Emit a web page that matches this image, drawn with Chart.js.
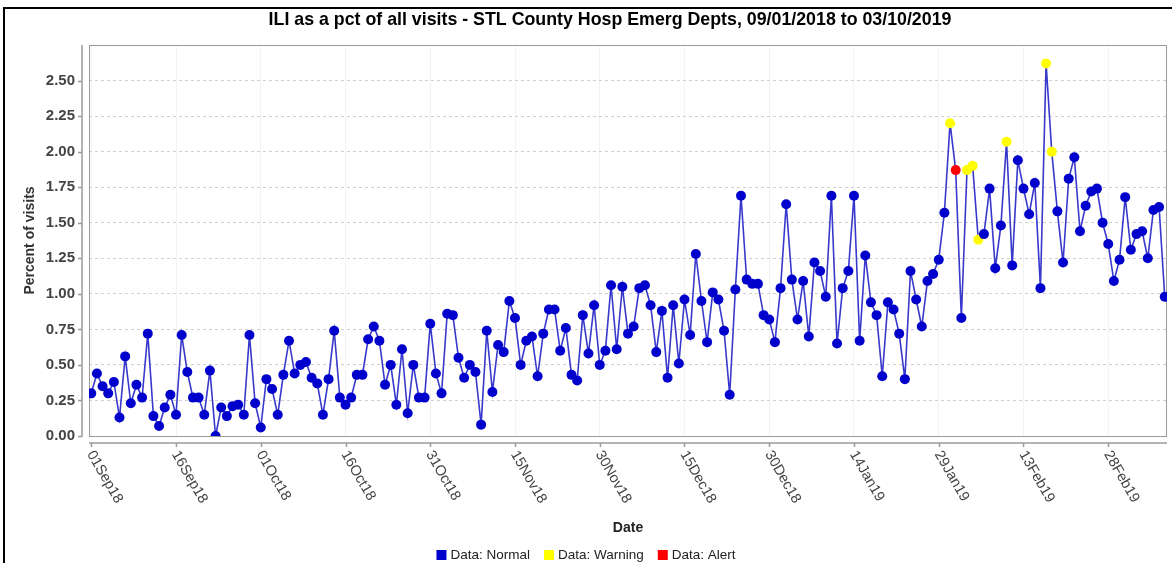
<!DOCTYPE html>
<html>
<head>
<meta charset="utf-8">
<title>ILI chart</title>
<script src="https://cdn.jsdelivr.net/npm/chart.js@4.4.1/dist/chart.umd.min.js"></script>
<style>
    html, body { margin: 0; padding: 0; background: #fff; }
    #wrap { position: relative; width: 1172px; height: 563px; }
</style>
</head>
<body>
<div id="wrap"><canvas id="Chart1" width="1172" height="563"></canvas></div>
<script>
// daily values, 01Sep18 .. 10Mar19
const startDate = '2018-09-01';
const iliPct = [
    0.30, 0.44, 0.35, 0.30, 0.38, 0.13, 0.56, 0.23, 0.36, 0.27,
    0.72, 0.14, 0.07, 0.20, 0.29, 0.15, 0.71, 0.45, 0.27, 0.27,
    0.15, 0.46, 0.00, 0.20, 0.14, 0.21, 0.22, 0.15, 0.71, 0.23,
    0.06, 0.40, 0.33, 0.15, 0.43, 0.67, 0.44, 0.50, 0.52, 0.41,
    0.37, 0.15, 0.40, 0.74, 0.27, 0.22, 0.27, 0.43, 0.43, 0.68,
    0.77, 0.67, 0.36, 0.50, 0.22, 0.61, 0.16, 0.50, 0.27, 0.27,
    0.79, 0.44, 0.30, 0.86, 0.85, 0.55, 0.41, 0.50, 0.45, 0.08,
    0.74, 0.31, 0.64, 0.59, 0.95, 0.83, 0.50, 0.67, 0.70, 0.42,
    0.72, 0.89, 0.89, 0.60, 0.76, 0.43, 0.39, 0.85, 0.58, 0.92,
    0.50, 0.60, 1.06, 0.61, 1.05, 0.72, 0.77, 1.04, 1.06, 0.92,
    0.59, 0.88, 0.41, 0.92, 0.51, 0.96, 0.71, 1.28, 0.95, 0.66,
    1.01, 0.96, 0.74, 0.29, 1.03, 1.69, 1.10, 1.07, 1.07, 0.85,
    0.82, 0.66, 1.04, 1.63, 1.10, 0.82, 1.09, 0.70, 1.22, 1.16,
    0.98, 1.69, 0.65, 1.04, 1.16, 1.69, 0.67, 1.27, 0.94, 0.85,
    0.42, 0.94, 0.89, 0.72, 0.40, 1.16, 0.96, 0.77, 1.09, 1.14,
    1.24, 1.57, 2.20, 1.87, 0.83, 1.87, 1.90, 1.38, 1.42, 1.74,
    1.18, 1.48, 2.07, 1.20, 1.94, 1.74, 1.56, 1.78, 1.04, 2.62,
    2.00, 1.58, 1.22, 1.81, 1.96, 1.44, 1.62, 1.72, 1.74, 1.50,
    1.35, 1.09, 1.24, 1.68, 1.31, 1.42, 1.44, 1.25, 1.59, 1.61,
    0.98
];
const warningDates = ['2019-01-31', '2019-02-03', '2019-02-04', '2019-02-05', '2019-02-10', '2019-02-17', '2019-02-18'];
const alertDates = ['2019-02-01'];

const xTickDays = [0, 15, 30, 45, 60, 75, 90, 105, 120, 135, 150, 165, 180];
const xTickLabels = ['01Sep18', '16Sep18', '01Oct18', '16Oct18', '31Oct18', '15Nov18', '30Nov18',
    '15Dec18', '30Dec18', '14Jan19', '29Jan19', '13Feb19', '28Feb19'];
const yTicks = [0, 0.25, 0.5, 0.75, 1.0, 1.25, 1.5, 1.75, 2.0, 2.25, 2.5];

const legendNames = ['Data: Normal', 'Data: Warning', 'Data: Alert'];
const legendColors = ['#0000cc', '#ffff00', '#ff0000'];

const chartTitle = 'ILI as a pct of all visits - STL County Hosp Emerg Depts, 09/01/2018 to 03/10/2019';
const FONT = '"Liberation Sans", Arial, sans-serif';

function dayIndex(d) {
    return Math.round((Date.parse(d) - Date.parse(startDate)) / 86400000);
}
const warnIdx = warningDates.map(dayIndex);
const alertIdx = alertDates.map(dayIndex);
const pointColors = iliPct.map((v, i) => {
    if (alertIdx.includes(i)) return legendColors[2];
    if (warnIdx.includes(i)) return legendColors[1];
    return legendColors[0];
});

// frame, offset axes, rotated date labels, title, legend
const decorations = {
    id: 'decorations',
    beforeDraw(chart) {
        const ctx = chart.ctx;
        ctx.save();
        ctx.fillStyle = '#fff';
        ctx.fillRect(0, 0, chart.width, chart.height);
        ctx.restore();
    },
    beforeDatasetsDraw(chart) {
        const {ctx, chartArea: a} = chart;
        ctx.save();
        ctx.strokeStyle = '#9a9a9a';
        ctx.lineWidth = 1;
        ctx.strokeRect(a.left + 0.5, a.top + 0.5, a.right - a.left - 1, a.bottom - a.top);
        ctx.restore();
    },
    afterDraw(chart) {
        const {ctx, chartArea: a, scales} = chart;
        const x = scales.x, y = scales.y;
        ctx.save();

        // outer border
        ctx.fillStyle = '#000';
        ctx.fillRect(3, 7, 2, chart.height - 7);
        ctx.fillRect(3, 7, chart.width - 3, 2);

        // title
        ctx.fillStyle = '#000';
        ctx.font = 'bold 17.8px ' + FONT;
        ctx.textAlign = 'center';
        ctx.textBaseline = 'middle';
        ctx.fillText(chartTitle, 610, 20);

        // y axis line + ticks
        ctx.strokeStyle = '#9a9a9a';
        ctx.lineWidth = 1.5;
        const yx = a.left - 7;
        ctx.beginPath();
        ctx.moveTo(yx, a.top);
        ctx.lineTo(yx, a.bottom + 1);
        yTicks.forEach(t => {
            const py = Math.round(y.getPixelForValue(t)) + 0.5;
            ctx.moveTo(yx - 4, py);
            ctx.lineTo(yx, py);
        });
        ctx.stroke();

        // x axis line + ticks
        const xy = a.bottom + 7;
        ctx.beginPath();
        ctx.moveTo(a.left, xy);
        ctx.lineTo(a.right, xy);
        xTickDays.forEach(d => {
            const px = Math.round(x.getPixelForValue(d)) + 0.5;
            ctx.moveTo(px, xy);
            ctx.lineTo(px, xy + 4);
        });
        ctx.stroke();

        // rotated tick labels
        ctx.fillStyle = '#444';
        ctx.font = '14.5px ' + FONT;
        ctx.textAlign = 'left';
        ctx.textBaseline = 'middle';
        xTickDays.forEach((d, i) => {
            const px = x.getPixelForValue(d);
            ctx.save();
            ctx.translate(px - 1, xy + 9);
            ctx.rotate(60 * Math.PI / 180);
            ctx.fillText(xTickLabels[i], 0, 0);
            ctx.restore();
        });

        // legend
        ctx.font = '13.5px ' + FONT;
        ctx.textBaseline = 'middle';
        const box = 10, gapBox = 4, gapItem = 14;
        const widths = legendNames.map(n => box + gapBox + ctx.measureText(n).width);
        const total = widths.reduce((s, w) => s + w, 0) + gapItem * (widths.length - 1);
        let lx = chart.width / 2 - total / 2;
        const ly = 555;
        legendNames.forEach((n, i) => {
            ctx.fillStyle = legendColors[i];
            ctx.fillRect(lx, ly - box / 2, box, box);
            ctx.fillStyle = '#222';
            ctx.fillText(n, lx + box + gapBox, ly + 0.5);
            lx += widths[i] + gapItem;
        });

        ctx.restore();
    }
};

const ctx1 = document.getElementById('Chart1').getContext('2d');
const chart1 = new Chart(ctx1, {
    type: 'line',
    data: {
        datasets: [
            {
                label: 'Data',
                data: iliPct.map((v, i) => ({x: i, y: v})),
                borderColor: '#3838cc',
                borderWidth: 1.6,
                backgroundColor: pointColors,
                pointBackgroundColor: pointColors,
                pointBorderColor: pointColors,
                pointBorderWidth: 0,
                pointRadius: 5,
                pointHoverRadius: 5,
                tension: 0,
                fill: false,
            },
        ],
    },
    options: {
        responsive: false,
        animation: false,
        devicePixelRatio: 1,
        layout: {
            padding: {top: 45, right: 4, bottom: 26, left: 0},
        },
        plugins: {
            legend: {display: false},
            title: {display: false},
            tooltip: {enabled: false},
        },
        scales: {
            x: {
                type: 'linear',
                min: -0.4,
                max: 190.4,
                afterBuildTicks: (scale) => {
                    scale.ticks = xTickDays.map(v => ({value: v}));
                },
                afterFit: (scale) => {
                    scale.height = 101;
                },
                ticks: {display: false},
                grid: {
                    color: '#f3f3f3',
                    drawTicks: false,
                },
                border: {display: false},
                title: {
                    display: true,
                    text: 'Date',
                    color: '#222',
                    font: {family: FONT, size: 14, weight: 'bold'},
                    padding: {top: 0, bottom: 0},
                },
            },
            y: {
                min: 0,
                max: 2.75,
                afterBuildTicks: (scale) => {
                    scale.ticks = yTicks.map(v => ({value: v}));
                },
                afterFit: (scale) => {
                    scale.width = 89;
                },
                ticks: {
                    padding: 14,
                    color: '#444',
                    font: {family: FONT, size: 15, weight: 'bold'},
                    callback: (v) => v.toFixed(2),
                },
                grid: {
                    color: (c) => c.tick && c.tick.value === 0 ? 'rgba(0,0,0,0)' : '#cfcfcf',
                    lineWidth: 1,
                    drawTicks: false,
                },
                border: {display: false, dash: [3, 3]},
                title: {
                    display: true,
                    text: 'Percent of visits',
                    color: '#333',
                    font: {family: FONT, size: 14, weight: 'bold'},
                    padding: {top: 22, bottom: 0},
                },
            },
        },
    },
    plugins: [decorations],
});
</script>
</body>
</html>
